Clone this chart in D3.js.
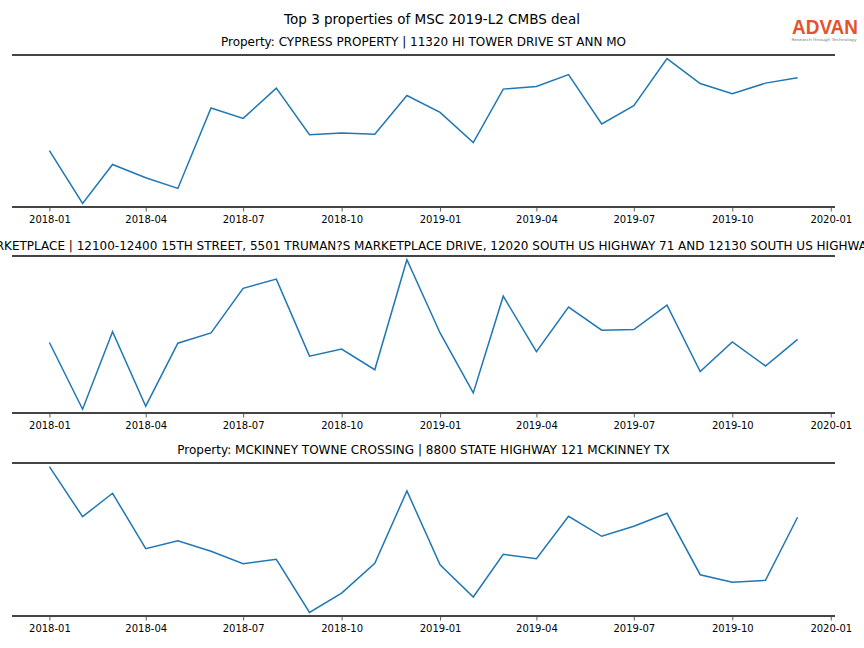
<!DOCTYPE html>
<html>
<head>
<meta charset="utf-8">
<script src="https://cdn.jsdelivr.net/npm/d3@7"></script>
<style>
  html, body { margin: 0; padding: 0; background: #fff; }
  svg { display: block; font-family: "DejaVu Sans", sans-serif; }
</style>
</head>
<body>
<svg id="chart" width="864" height="648"></svg>
<script>
// ---- data ----
const months = [
  "2018-01","2018-02","2018-03","2018-04","2018-05","2018-06",
  "2018-07","2018-08","2018-09","2018-10","2018-11","2018-12",
  "2019-01","2019-02","2019-03","2019-04","2019-05","2019-06",
  "2019-07","2019-08","2019-09","2019-10","2019-11","2019-12"
];
const tickLabels = ["2018-01","2018-04","2018-07","2018-10","2019-01","2019-04","2019-07","2019-10","2020-01"];

const mainTitle = "Top 3 properties of MSC 2019-L2 CMBS deal";
const titles = [
  "Property: CYPRESS PROPERTY | 11320 HI TOWER DRIVE ST ANN MO",
  "Property: TRUMAN'S MARKETPLACE | 12100-12400 15TH STREET, 5501 TRUMAN?S MARKETPLACE DRIVE, 12020 SOUTH US HIGHWAY 71 AND 12130 SOUTH US HIGHWAY 71 GRANDVIEW MO",
  "Property: MCKINNEY TOWNE CROSSING | 8800 STATE HIGHWAY 121 MCKINNEY TX"
];

const cypress = [56, 3, 42, 28.7, 18, 98.7, 88.3, 118.7, 72, 73.7, 72.3, 111.3,
                 94.3, 64, 117.7, 120.3, 132.3, 82.7, 101, 148.3, 123.3, 113, 123.7, 129];
const truman  = [69.7, 4.3, 80.3, 7.3, 69, 79, 122.7, 131.7, 56.3, 63.3, 43, 150.7,
                 79, 20.3, 115, 60.7, 104.3, 81.7, 82.3, 106.3, 41.3, 70.3, 46.7, 72.7];
const mckinney = [149.3, 99.3, 122.7, 67.3, 75.3, 64.7, 52.3, 56.7, 3.7, 23, 52.7, 125,
                  51.3, 19, 61.7, 57.3, 99.7, 79.7, 89.7, 102.7, 41.3, 33.7, 35.7, 98.7];
const seriesList = [cypress, truman, mckinney];

// ---- layout ----
const svg = d3.select("#chart");
const left = 12, right = 835;
const panels = [
  { top: 55, bottom: 207, titleY: 46 },
  { top: 256, bottom: 413, titleY: 250 },
  { top: 463, bottom: 616, titleY: 454 }
];
const parse = d3.timeParse("%Y-%m");
const dates = months.map(parse);

// x scale with matplotlib-like 5% margins
const dMin = dates[0], dMax = dates[dates.length - 1];
const span = dMax - dMin;
const x = d3.scaleTime()
  .domain([new Date(+dMin - span * 0.05), new Date(+dMax + span * 0.05)])
  .range([left, right]);

svg.append("text")
  .attr("x", 432).attr("y", 24)
  .attr("text-anchor", "middle")
  .attr("font-size", 13.5)
  .attr("fill", "#000")
  .text(mainTitle);

// logo
svg.append("text")
  .attr("x", 825).attr("y", 34)
  .attr("text-anchor", "middle")
  .attr("font-family", "Liberation Sans, Arial, sans-serif")
  .attr("font-size", 20)
  .attr("font-weight", "600")
  .attr("fill", "#e4532b")
  .attr("textLength", 66)
  .attr("lengthAdjust", "spacingAndGlyphs")
  .text("ADVAN");
svg.append("text")
  .attr("x", 824).attr("y", 40.5)
  .attr("text-anchor", "middle")
  .attr("font-size", 3.8)
  .attr("fill", "#777")
  .attr("textLength", 65)
  .attr("lengthAdjust", "spacingAndGlyphs")
  .text("Research through Technology");

panels.forEach((p, i) => {
  const vals = seriesList[i];
  const ext = d3.extent(vals);
  const pad = (ext[1] - ext[0]) * 0.025;
  const y = d3.scaleLinear()
    .domain([ext[0] - pad, ext[1] + pad])
    .range([p.bottom, p.top]);

  const g = svg.append("g");

  // title
  g.append("text")
    .attr("x", (left + right) / 2).attr("y", p.titleY)
    .attr("text-anchor", "middle")
    .attr("font-size", 12)
    .attr("fill", "#000")
    .text(titles[i]);

  // line
  const line = d3.line()
    .x((d, k) => x(dates[k]))
    .y(d => y(d));
  g.append("path")
    .datum(vals)
    .attr("d", line)
    .attr("fill", "none")
    .attr("stroke", "#1f77b4")
    .attr("stroke-width", 1.5)
    .attr("stroke-linejoin", "miter");

  // spines top & bottom
  [p.top, p.bottom].forEach(yy => {
    g.append("line")
      .attr("x1", left).attr("x2", right)
      .attr("y1", yy).attr("y2", yy)
      .attr("stroke", "#444")
      .attr("stroke-width", 2);
  });

  // x axis
  const axis = d3.axisBottom(x)
    .tickValues(tickLabels.map(parse))
    .tickFormat(d3.timeFormat("%Y-%m"))
    .tickSize(3.5)
    .tickPadding(4);
  const ax = g.append("g")
    .attr("transform", `translate(0,${p.bottom + 1})`)
    .call(axis);
  ax.select(".domain").remove();
  ax.selectAll(".tick line").attr("stroke", "#333").attr("stroke-width", 0.8);
  ax.selectAll(".tick text")
    .attr("font-size", 10)
    .attr("font-family", "DejaVu Sans, sans-serif")
    .attr("fill", "#000");
});
</script>
</body>
</html>
